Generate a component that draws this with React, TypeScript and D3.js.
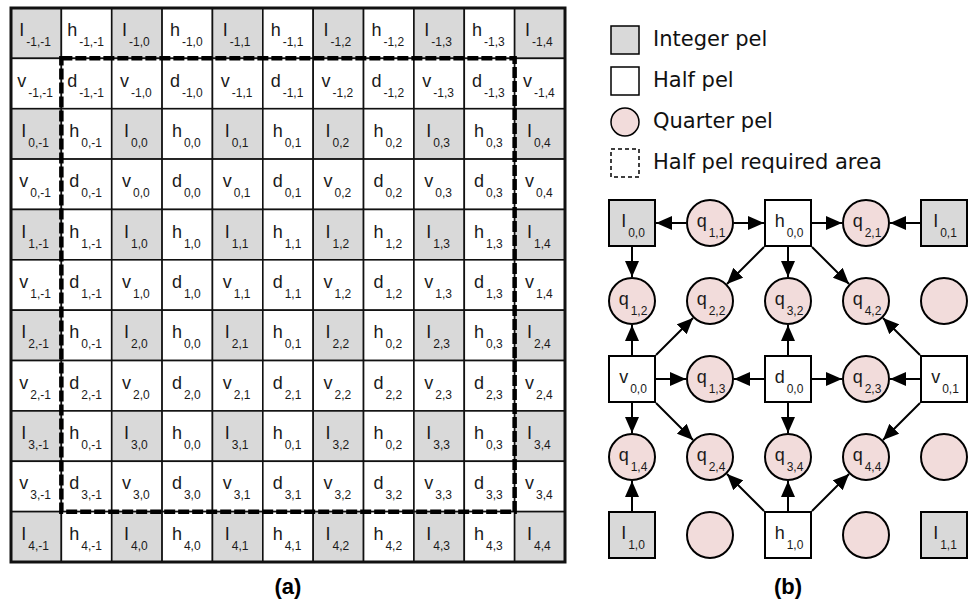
import React from 'react';
import * as d3 from 'd3';

// (a) pel grid: subscripts by row / column parity
const intRowIdx = ['-1', '0', '1', '2', '3', '4'];
const hRowIdx = ['-1', '0', '1', '0', '0', '4']; // as printed in the figure
const halfRowIdx = ['-1', '0', '1', '2', '3'];
const intColIdx = ['-1', '0', '1', '2', '3', '4'];
const halfColIdx = ['-1', '0', '1', '2', '3'];

// (b) quarter pel interpolation diagram
const nodeLetters = [
  ['I', 'q', 'h', 'q', 'I'],
  ['q', 'q', 'q', 'q', 'q'],
  ['v', 'q', 'd', 'q', 'v'],
  ['q', 'q', 'q', 'q', 'q'],
  ['I', 'q', 'h', 'q', 'I'],
];
const nodeSubs = [
  ['0,0', '1,1', '0,0', '2,1', '0,1'],
  ['1,2', '2,2', '3,2', '4,2', ''],
  ['0,0', '1,3', '0,0', '2,3', '0,1'],
  ['1,4', '2,4', '3,4', '4,4', ''],
  ['1,0', '', '1,0', '', '1,1'],
];
const arrows: [string, string][] = [
  ['q1,1', 'I0,0'], ['q1,1', 'h0,0'], ['h0,0', 'q2,1'], ['I0,1', 'q2,1'],
  ['I0,0', 'q1,2'], ['h0,0', 'q2,2'], ['h0,0', 'q3,2'], ['h0,0', 'q4,2'],
  ['v0,0', 'q1,2'], ['v0,0', 'q2,2'], ['v0,0', 'q1,3'], ['v0,0', 'q1,4'], ['v0,0', 'q2,4'],
  ['d0,0', 'q3,2'], ['d0,0', 'q1,3'], ['d0,0', 'q2,3'], ['d0,0', 'q3,4'],
  ['v0,1', 'q2,3'], ['v0,1', 'q4,2'], ['v0,1', 'q4,4'],
  ['I1,0', 'q1,4'], ['h1,0', 'q2,4'], ['h1,0', 'q3,4'], ['h1,0', 'q4,4'],
];

const legendLabels = ['Integer pel', 'Half pel', 'Quarter pel', 'Half pel required area'];

const GRAY = '#d9d9d9';
const PINK = '#f2dcdb';
const SANS = '"Liberation Sans", Arial, sans-serif';

function Label({ x, y, letter, sub, size, subSize, anchor = 'middle' }: any) {
  return (
    <text x={x} y={y} textAnchor={anchor} fontFamily={SANS} fontSize={size} fill="#1a1a1a">
      {letter}
      <tspan dx={2} dy={10} fontSize={subSize}>{sub}</tspan>
    </text>
  );
}

function PelGrid() {
  const n = 11;
  const x = d3.scaleBand<number>().domain(d3.range(n)).range([11, 565]);
  const y = d3.scaleBand<number>().domain(d3.range(n)).range([8, 562]);
  const w = x.bandwidth();
  const h = y.bandwidth();

  const cells = d3.cross(d3.range(n), d3.range(n)).map(([r, c]) => {
    const evenR = r % 2 === 0;
    const evenC = c % 2 === 0;
    const ri = evenR ? r / 2 : (r - 1) / 2;
    const ci = evenC ? c / 2 : (c - 1) / 2;
    let letter: string;
    let rowSub: string;
    if (evenR && evenC) { letter = 'I'; rowSub = intRowIdx[ri]; }
    else if (evenR) { letter = 'h'; rowSub = hRowIdx[ri]; }
    else if (evenC) { letter = 'v'; rowSub = halfRowIdx[ri]; }
    else { letter = 'd'; rowSub = halfRowIdx[ri]; }
    const colSub = evenC ? intColIdx[ci] : halfColIdx[ci];
    return { r, c, letter, sub: `${rowSub},${colSub}`, gray: evenR && evenC };
  });

  return (
    <g>
      {cells.map(d => (
        <rect key={`c${d.r}-${d.c}`} x={x(d.c)} y={y(d.r)} width={w} height={h}
          fill={d.gray ? GRAY : '#fff'} stroke="#111" strokeWidth={1.6} />
      ))}
      {cells.map(d => (
        <Label key={`t${d.r}-${d.c}`} x={x(d.c)! + w / 2 - 1} y={y(d.r)! + h / 2 + 3}
          letter={d.letter} sub={d.sub} size={18} subSize={12} />
      ))}
      <rect x={11} y={8} width={554} height={554} fill="none" stroke="#111" strokeWidth={3} />
      <rect x={x(1)} y={y(1)} width={x(10)! - x(1)!} height={y(10)! - y(1)!}
        fill="none" stroke="#000" strokeWidth={4.5} strokeDasharray="11 3" />
      <text x={288} y={594} textAnchor="middle" fontFamily={SANS} fontWeight="bold" fontSize={22}>(a)</text>
    </g>
  );
}

function Diagram() {
  const cx = d3.scalePoint<number>().domain(d3.range(5)).range([632, 944]);
  const cy = d3.scalePoint<number>().domain(d3.range(5)).range([223, 535]);
  const half = 23;

  const nodes = d3.cross(d3.range(5), d3.range(5)).map(([r, c]) => {
    const letter = nodeLetters[r][c];
    const sub = nodeSubs[r][c];
    return { id: letter + sub, letter, sub, x: cx(c)!, y: cy(r)!, circle: letter === 'q' };
  });
  const byId = new Map(nodes.filter(d => d.sub).map(d => [d.id, d]));

  // point on node boundary towards (tx, ty)
  const edgePoint = (nd: any, tx: number, ty: number) => {
    const dx = tx - nd.x;
    const dy = ty - nd.y;
    const len = Math.hypot(dx, dy);
    const ux = dx / len;
    const uy = dy / len;
    const t = nd.circle ? half + 1 : (half + 1) / Math.max(Math.abs(ux), Math.abs(uy));
    return [nd.x + ux * t, nd.y + uy * t];
  };

  const links = arrows.map(([a, b]) => {
    const s = byId.get(a)!;
    const t = byId.get(b)!;
    const p0 = edgePoint(s, t.x, t.y);
    const p1 = edgePoint(t, s.x, s.y);
    return { key: a + '>' + b, p0, p1 };
  });

  const line = d3.line();

  return (
    <g>
      <defs>
        <marker id="head" markerUnits="userSpaceOnUse" markerWidth={16} markerHeight={14}
          refX={16} refY={7} orient="auto">
          <path d="M0,0 L16,7 L0,14 Z" fill="#000" />
        </marker>
      </defs>
      {links.map(l => (
        <path key={l.key} d={line([l.p0 as [number, number], l.p1 as [number, number]])!}
          stroke="#000" strokeWidth={2} fill="none" markerEnd="url(#head)" />
      ))}
      {nodes.map(d => d.circle ? (
        <circle key={`n${d.x}-${d.y}`} cx={d.x} cy={d.y} r={half} fill={PINK} stroke="#000" strokeWidth={2} />
      ) : (
        <rect key={`n${d.x}-${d.y}`} x={d.x - half} y={d.y - half} width={half * 2} height={half * 2}
          fill={d.letter === 'I' ? GRAY : '#fff'} stroke="#000" strokeWidth={2} />
      ))}
      {nodes.filter(d => d.sub).map(d => (
        <Label key={`l${d.x}-${d.y}`} x={d.x + 1} y={d.y + 4} letter={d.letter} sub={d.sub} size={18} subSize={12} />
      ))}
      <text x={788} y={594} textAnchor="middle" fontFamily={SANS} fontWeight="bold" fontSize={22}>(b)</text>
    </g>
  );
}

function Legend() {
  const y = d3.scalePoint<number>().domain(d3.range(legendLabels.length)).range([40, 163]);
  const s = 28;
  return (
    <g>
      {legendLabels.map((label, i) => {
        const cy = y(i)!;
        let sym;
        if (i === 0) sym = <rect x={611} y={cy - s / 2} width={s} height={s} fill={GRAY} stroke="#000" strokeWidth={1.5} />;
        else if (i === 1) sym = <rect x={611} y={cy - s / 2} width={s} height={s} fill="#fff" stroke="#000" strokeWidth={1.5} />;
        else if (i === 2) sym = <circle cx={611 + s / 2} cy={cy} r={s / 2} fill={PINK} stroke="#000" strokeWidth={1.5} />;
        else sym = <rect x={611} y={cy - s / 2} width={s} height={s} fill="none" stroke="#000" strokeWidth={1.5} strokeDasharray="4 3" />;
        return (
          <g key={label}>
            {sym}
            <text x={653} y={cy + 6} fontFamily='"DejaVu Sans", Verdana, sans-serif' fontSize={21} fill="#111">{label}</text>
          </g>
        );
      })}
    </g>
  );
}

export default function App() {
  return (
    <svg width={971} height={602} style={{ position: 'absolute', left: 0, top: 0, background: '#fff' }}>
      <PelGrid />
      <Legend />
      <Diagram />
    </svg>
  );
}
